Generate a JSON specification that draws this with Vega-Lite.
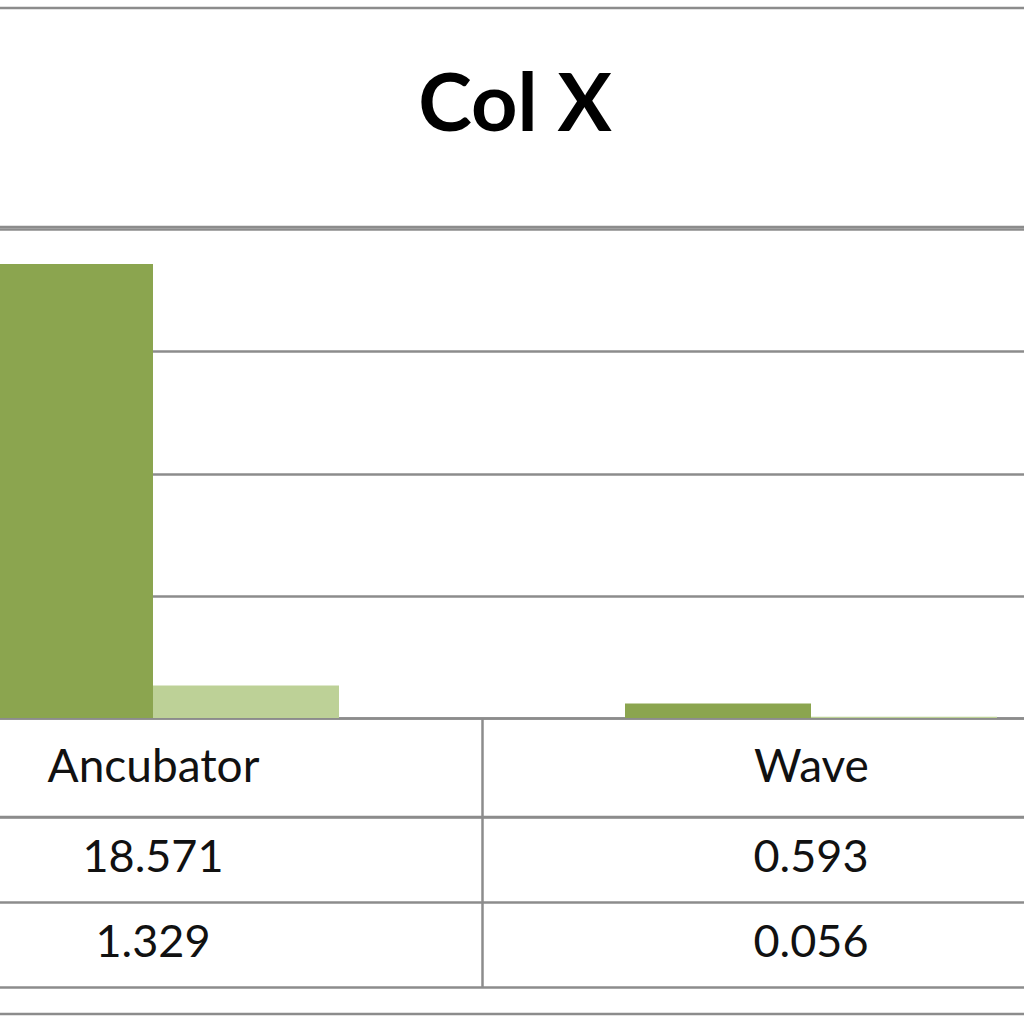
{
 "$schema": "https://vega.github.io/schema/vega-lite/v6.json",
 "padding": {"left": -179, "top": 6, "right": -175, "bottom": 5},
 "spacing": 0,
 "background": "white",
 "config": {"view": {"stroke": null}, "font": "Lato"},
 "datasets": {
   "bars": [
     {"category": "Ancubator", "series": "Series 1", "value": 18.571},
     {"category": "Ancubator", "series": "Series 2", "value": 1.329},
     {"category": "Wave", "series": "Series 1", "value": 0.593},
     {"category": "Wave", "series": "Series 2", "value": 0.056}
   ],
   "titletext": [{"title": "Col X"}]
 },
 "vconcat": [
  {
   "width": 1382, "height": 219,
   "data": {"name": "titletext"},
   "view": {"stroke": "#8c8c8c", "strokeWidth": 2.5},
   "mark": {"type": "text", "font": "Lato", "fontWeight": "bold", "fontSize": 81, "baseline": "middle", "align": "center", "dy": -11, "color": "#000"},
   "encoding": {"text": {"field": "title"}}
  },
  {
   "spacing": 99,
   "bounds": "flush",
   "vconcat": [
    {
     "width": 1316, "height": 489,
     "data": {"name": "bars"},
     "mark": {"type": "bar"},
     "encoding": {
       "x": {"field": "category", "type": "nominal", "sort": null,
         "scale": {"paddingInner": 0, "paddingOuter": 0},
         "axis": {"title": null, "labelAngle": 0, "labelLimit": 600, "domainColor": "#8c8c8c", "domainWidth": 2.5, "tickBand": "extent", "tickColor": "#8c8c8c", "tickWidth": 2.5, "tickSize": 99, "labelFontSize": 46, "labelFont": "Lato", "labelColor": "#111", "labelBaseline": "middle", "labelPadding": -50}},
       "xOffset": {"field": "series", "sort": null, "scale": {"paddingInner": 0, "paddingOuter": 0.7688}},
       "y": {"field": "value", "type": "quantitative", "scale": {"domain": [0, 20]},
         "axis": {"title": null, "labels": false, "ticks": false, "domain": false, "values": [0, 5, 10, 15, 20], "gridColor": "#8c8c8c", "gridWidth": 2.5, "gridOpacity": 1}},
       "color": {"field": "series", "legend": null, "scale": {"range": ["#8ba54f", "#bdd197"]}}
     }
    },
    {
     "width": 1316, "height": 197,
     "data": {"name": "bars"},
     "view": {"stroke": "#8c8c8c", "strokeWidth": 2.5},
     "mark": {"type": "text", "fontSize": 45, "font": "Lato", "color": "#111", "dy": -2},
     "encoding": {
       "x": {"field": "category", "type": "nominal", "sort": null,
         "scale": {"paddingInner": 0, "paddingOuter": 0},
         "axis": {"orient": "top", "title": null, "labels": false, "domain": false, "grid": false, "tickBand": "extent", "tickSize": -170, "tickColor": "#8c8c8c", "tickWidth": 2.5}},
       "y": {"field": "series", "type": "nominal", "sort": null,
         "scale": {"paddingInner": 0, "paddingOuter": 0.1588, "align": 0},
         "axis": {"title": null, "labels": false, "ticks": false, "domain": false, "grid": true, "tickBand": "extent", "gridColor": "#8c8c8c", "gridWidth": 2.5, "gridOpacity": 1}},
       "text": {"field": "value", "type": "quantitative", "format": ".3f"}
     }
    }
   ]
  }
 ]
}
